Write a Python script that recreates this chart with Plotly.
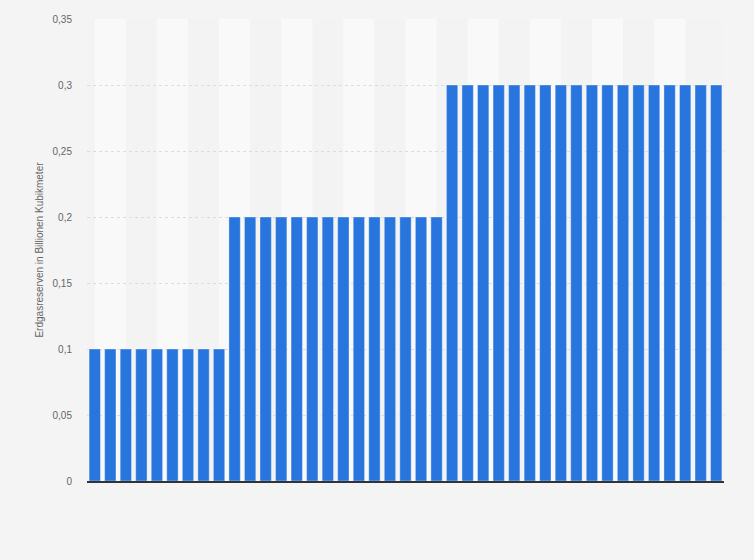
import plotly.graph_objects as go

# 41 periods (x labels not shown in the reference)
periods = list(range(41))
reserves = [0.1] * 9 + [0.2] * 14 + [0.3] * 18
y_ticks = [0, 0.05, 0.1, 0.15, 0.2, 0.25, 0.3, 0.35]
y_tick_labels = ["0", "0,05", "0,1", "0,15", "0,2", "0,25", "0,3", "0,35"]

fig = go.Figure()
fig.add_trace(go.Bar(
    x=periods, y=reserves,
    marker=dict(color="#2876dd", line=dict(color="rgba(255,255,255,0.35)", width=1)),
    hoverinfo="y",
))

shapes = []
for k in range(0, 40, 4):
    shapes.append(dict(type="rect", xref="x", yref="paper", x0=k, x1=k + 2,
                       y0=0, y1=1, fillcolor="#f9f9f9", line=dict(width=0), layer="below"))

fig.update_layout(
    width=754, height=560,
    paper_bgcolor="#f4f4f4", plot_bgcolor="#f3f3f3",
    margin=dict(l=87, r=30, t=19, b=79),
    bargap=0.27,
    showlegend=False,
    shapes=shapes,
    font=dict(family="Liberation Sans, Arial, sans-serif", color="#666666"),
    xaxis=dict(range=[-0.5, 40.5], showticklabels=False, showgrid=False, zeroline=False,
               showline=True, linecolor="#333333", linewidth=1.5, ticks=""),
    yaxis=dict(range=[0, 0.35], tickvals=y_ticks, ticktext=y_tick_labels,
               showgrid=True, gridcolor="#dcdcdc", griddash="dot", gridwidth=1,
               zeroline=False, tickfont=dict(size=10, color="#666666"),
               ticklabelstandoff=14,
               title=dict(text="Erdgasreserven in Billionen Kubikmeter",
                          font=dict(size=10, color="#666666"), standoff=7)),
)

fig.write_html("out.html", config={"displayModeBar": False},
               post_script="document.body.style.margin='0';document.body.style.background='#f4f4f4';")
